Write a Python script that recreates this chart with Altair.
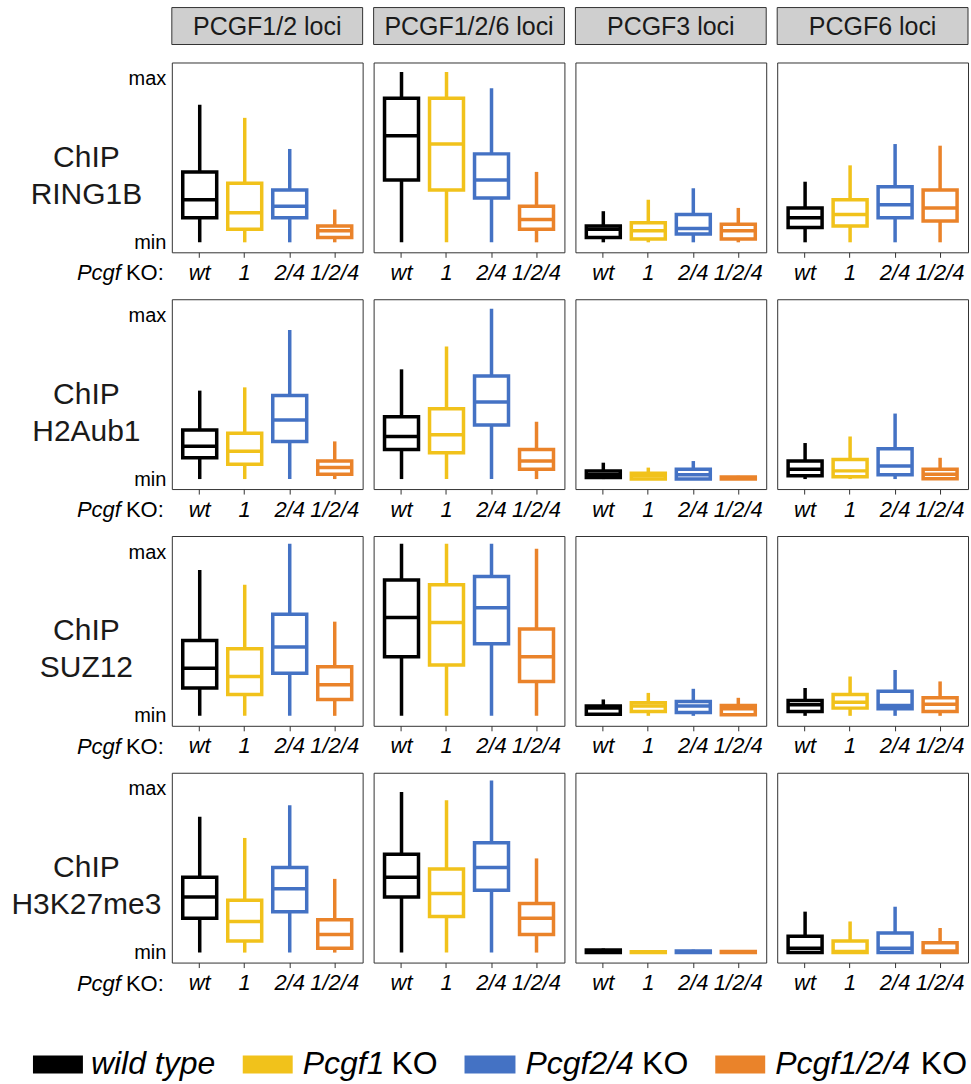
import altair as alt
import pandas as pd

FONT = "Liberation Sans"

genotypes = ["wt", "1", "2/4", "1/2/4"]
geno_colors = ["#000000", "#F1C21B", "#4472C4", "#EA832A"]
loci = ["PCGF1/2 loci", "PCGF1/2/6 loci", "PCGF3 loci", "PCGF6 loci"]
chip_marks = ["RING1B", "H2Aub1", "SUZ12", "H3K27me3"]

legend_italic = ["wild type", "Pcgf1", "Pcgf2/4", "Pcgf1/2/4"]
legend_plain = ["", "KO", "KO", "KO"]

# values scaled 0 (min) .. 1 (max); each inner list = wt, 1, 2/4, 1/2/4 ; outer = loci
lower_whisker = [[0.0, 0.0, 0.0, 0.0], [0.0, 0.0, 0.0, 0.0],
                 [0.0, 0.0, 0.0, 0.0], [0.0, 0.0, 0.0, 0.0]]

ring1b_q1 = [[0.15, 0.08, 0.15, 0.03], [0.38, 0.32, 0.27, 0.08],
             [0.03, 0.02, 0.05, 0.02], [0.09, 0.10, 0.15, 0.13]]
ring1b_med = [[0.26, 0.18, 0.22, 0.07], [0.65, 0.60, 0.38, 0.14],
              [0.08, 0.07, 0.085, 0.07], [0.15, 0.17, 0.23, 0.21]]
ring1b_q3 = [[0.43, 0.36, 0.32, 0.10], [0.88, 0.88, 0.54, 0.22],
             [0.10, 0.12, 0.17, 0.11], [0.21, 0.26, 0.34, 0.32]]
ring1b_max = [[0.84, 0.76, 0.57, 0.20], [1.04, 1.04, 0.94, 0.43],
              [0.19, 0.26, 0.33, 0.21], [0.37, 0.47, 0.60, 0.59]]

h2aub1_q1 = [[0.13, 0.09, 0.23, 0.03], [0.18, 0.16, 0.33, 0.06],
             [0.01, 0.0, 0.0, 0.0], [0.02, 0.014, 0.026, 0.002]]
h2aub1_med = [[0.20, 0.17, 0.36, 0.07], [0.26, 0.27, 0.47, 0.11],
              [0.03, 0.02, 0.026, 0.005], [0.06, 0.05, 0.08, 0.03]]
h2aub1_q3 = [[0.30, 0.28, 0.51, 0.11], [0.38, 0.43, 0.63, 0.18],
             [0.05, 0.035, 0.06, 0.012], [0.11, 0.12, 0.185, 0.06]]
h2aub1_max = [[0.54, 0.56, 0.91, 0.23], [0.67, 0.81, 1.04, 0.35],
              [0.10, 0.07, 0.11, 0.02], [0.22, 0.26, 0.40, 0.13]]

suz12_q1 = [[0.17, 0.13, 0.26, 0.10], [0.36, 0.31, 0.44, 0.21],
            [0.01, 0.026, 0.02, 0.006], [0.026, 0.047, 0.043, 0.026]]
suz12_med = [[0.29, 0.24, 0.42, 0.19], [0.60, 0.57, 0.66, 0.36],
             [0.047, 0.06, 0.06, 0.043], [0.067, 0.083, 0.063, 0.07]]
suz12_q3 = [[0.46, 0.41, 0.62, 0.30], [0.83, 0.80, 0.85, 0.53],
            [0.06, 0.08, 0.087, 0.063], [0.093, 0.13, 0.15, 0.11]]
suz12_max = [[0.89, 0.80, 1.05, 0.575], [1.05, 1.05, 1.05, 1.02],
             [0.10, 0.14, 0.165, 0.11], [0.17, 0.24, 0.28, 0.21]]

h3k27me3_q1 = [[0.21, 0.07, 0.25, 0.026], [0.34, 0.22, 0.38, 0.11],
               [0.0, 0.0, 0.0, 0.0], [0.0, 0.0, 0.0, 0.0]]
h3k27me3_med = [[0.34, 0.19, 0.39, 0.11], [0.46, 0.36, 0.52, 0.21],
                [0.005, 0.002, 0.004, 0.003], [0.026, 0.006, 0.026, 0.01]]
h3k27me3_q3 = [[0.46, 0.32, 0.52, 0.20], [0.60, 0.51, 0.67, 0.30],
               [0.015, 0.005, 0.01, 0.006], [0.10, 0.07, 0.12, 0.06]]
h3k27me3_max = [[0.83, 0.70, 0.90, 0.45], [0.98, 0.93, 1.05, 0.575],
                [0.025, 0.006, 0.018, 0.01], [0.25, 0.19, 0.28, 0.15]]

stats = {
    "RING1B": (ring1b_q1, ring1b_med, ring1b_q3, ring1b_max),
    "H2Aub1": (h2aub1_q1, h2aub1_med, h2aub1_q3, h2aub1_max),
    "SUZ12": (suz12_q1, suz12_med, suz12_q3, suz12_max),
    "H3K27me3": (h3k27me3_q1, h3k27me3_med, h3k27me3_q3, h3k27me3_max),
}

records = []
for m in chip_marks:
    q1s, meds, q3s, maxs = stats[m]
    for li, locus in enumerate(loci):
        for gi, g in enumerate(genotypes):
            records.append(dict(mark=m, locus=locus, geno=g,
                                lo=lower_whisker[li][gi], q1=q1s[li][gi],
                                med=meds[li][gi], q3=q3s[li][gi], hi=maxs[li][gi]))
df = pd.DataFrame(records)

PW, PH = 191, 190
BOX = 34
LW = 3.5
ysc = alt.Scale(domain=[-0.061, 1.098], nice=False, zero=False)
xsc = alt.Scale(domain=genotypes, paddingInner=0, paddingOuter=0.12)
colsc = alt.Scale(domain=genotypes, range=geno_colors)
xaxis = alt.Axis(title=None, labelAngle=0, labelFontStyle="italic", labelFontSize=22,
                 labelColor="#000000", labelFont=FONT, tickSize=5, tickColor="#333333",
                 tickWidth=1, domain=False, grid=False, labelPadding=5)


def y_axis(mark_name, first):
    if not first:
        return None
    return alt.Axis(values=[0, 1], labelExpr="datum.value == 0 ? 'min' : 'max'",
                    ticks=False, domain=False, grid=False, labelFontSize=20,
                    labelFont=FONT, labelColor="#000000", labelPadding=6,
                    title=["ChIP", mark_name], titleAngle=0, titleAlign="center",
                    titleBaseline="middle", titleX=-86, titleY=95, titleFontSize=30,
                    titleFont=FONT, titleFontWeight="normal", titleColor="#1a1a1a",
                    titleLineHeight=37)


def one_text(txt, **kw):
    return alt.Chart(pd.DataFrame({"t": [txt]})).mark_text(font=FONT, **kw)


def panel(ri, mark_name, ci, locus):
    first = ci == 0
    d = df[(df["mark"] == mark_name) & (df["locus"] == locus)]
    ya = y_axis(mark_name, first)
    base = alt.Chart(d).encode(x=alt.X("geno:N", scale=xsc, axis=xaxis, sort=genotypes))

    def Y(field):
        if ya is None:
            return alt.Y(field, scale=ysc, axis=None)
        return alt.Y(field, scale=ysc, axis=ya)

    layers = []
    if ri == 0:
        # strip header above the panel
        layers.append(alt.Chart(pd.DataFrame({"k": [locus]})).mark_rect(
            fill="#CFCFCF", stroke="#333333", strokeWidth=1).encode(
            x=alt.value(0), x2=alt.value(PW), y=alt.value(-55), y2=alt.value(-18)))
        layers.append(one_text(locus, fontSize=25, color="#1a1a1a", align="center",
                               baseline="middle").encode(
            x=alt.value(PW / 2), y=alt.value(-36), text="t:N"))

    whisk = base.mark_rule(strokeWidth=LW).encode(
        y=Y("lo:Q"), y2="hi:Q", color=alt.Color("geno:N", scale=colsc, legend=None))
    box = base.mark_bar(size=BOX, fill="white", strokeWidth=LW).encode(
        y=Y("q1:Q"), y2="q3:Q", stroke=alt.Stroke("geno:N", scale=colsc, legend=None))
    med = base.mark_tick(size=BOX, thickness=LW, opacity=1).encode(
        y=Y("med:Q"), color=alt.Color("geno:N", scale=colsc, legend=None))
    layers += [whisk, box, med]

    if first:
        layers.append(one_text("Pcgf", align="right", baseline="alphabetic", fontSize=22,
                               fontStyle="italic", color="#000000").encode(
            x=alt.value(-51), y=alt.value(PH + 28), text="t:N"))
        layers.append(one_text("KO:", align="right", baseline="alphabetic", fontSize=22,
                               color="#000000").encode(
            x=alt.value(-8), y=alt.value(PH + 28), text="t:N"))

    if first and ri == len(chip_marks) - 1:
        # custom legend (mixed italic / upright text) below the grid
        LY = 292
        sw_x = [(-139, -89), (71, 121), (293, 344), (544, 594)]
        it_x = [-81, 131, 354, 604]
        ko_x = [None, 266, 517, 796]
        for i in range(4):
            layers.append(alt.Chart(pd.DataFrame({"k": [legend_italic[i]]})).mark_rect(
                color=geno_colors[i]).encode(
                x=alt.value(sw_x[i][0]), x2=alt.value(sw_x[i][1]),
                y=alt.value(LY - 9), y2=alt.value(LY + 9)))
            layers.append(one_text(legend_italic[i], align="left", baseline="middle",
                                   fontSize=32, fontStyle="italic",
                                   color="#000000").encode(
                x=alt.value(it_x[i]), y=alt.value(LY), text="t:N"))
            if legend_plain[i]:
                layers.append(one_text(legend_plain[i], align="right", baseline="middle",
                                       fontSize=32, color="#000000").encode(
                    x=alt.value(ko_x[i]), y=alt.value(LY), text="t:N"))

    return alt.layer(*layers).properties(width=PW, height=PH)


panels = [panel(ri, m, ci, l) for ri, m in enumerate(chip_marks) for ci, l in enumerate(loci)]

chart = alt.concat(*panels, columns=4, spacing={"row": 47, "column": 11},
                   bounds="flush").properties(
    padding={"left": 10, "top": 6, "right": 2, "bottom": 2},
    background="white",
).configure(font=FONT).configure_view(stroke="#333333", strokeWidth=1, fill="white")

chart.save("out.html", embed_options={"renderer": "svg", "actions": False})
